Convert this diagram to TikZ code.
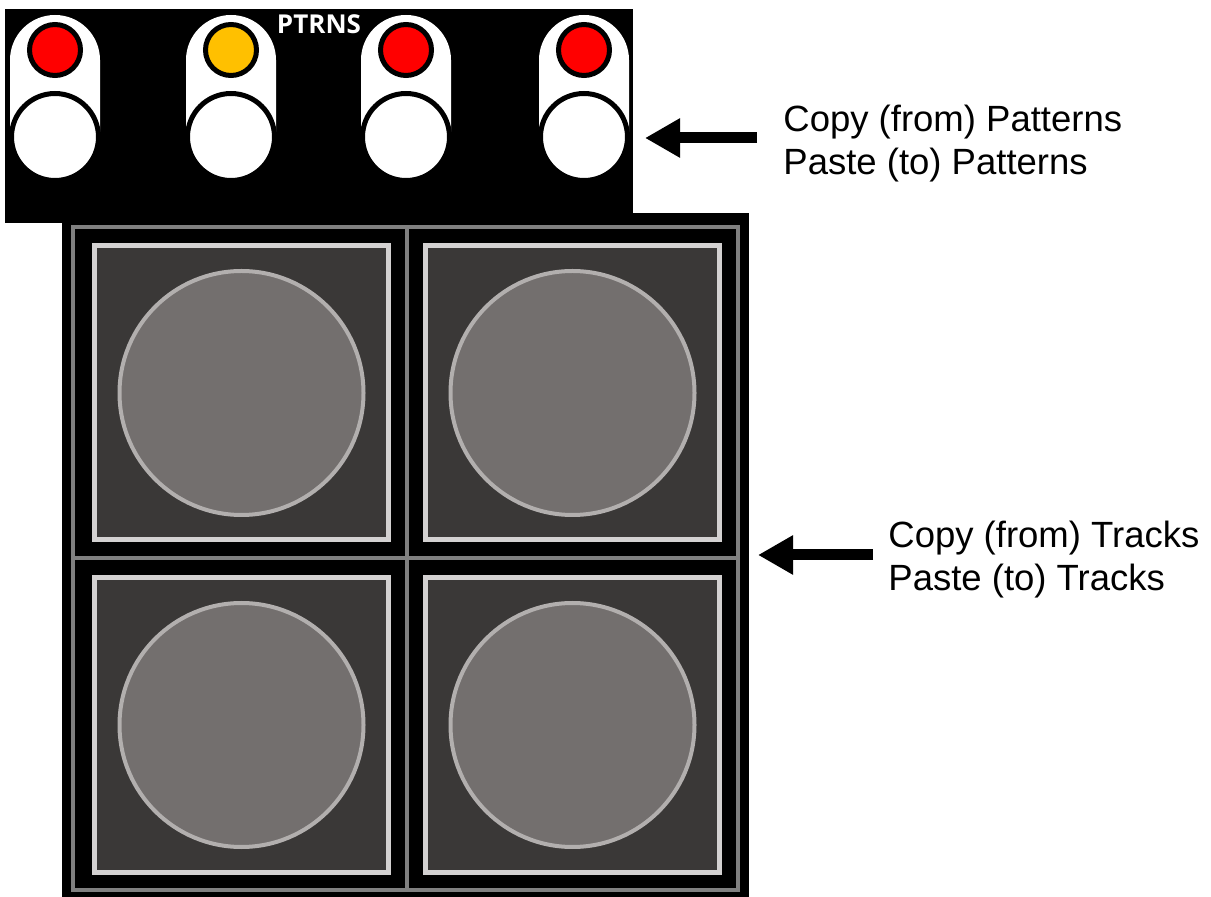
\documentclass[tikz,border=0pt]{standalone}
\usepackage{fontspec}
\setmainfont{Liberation Sans}
\newfontfamily\panelfont{Open Sans}
\usetikzlibrary{arrows.meta}
\usetikzlibrary{calc}

\definecolor{padfill}{HTML}{3A3837}
\definecolor{knobfill}{HTML}{736F6E}
\definecolor{knobrim}{HTML}{B2AFAE}
\definecolor{padrim}{HTML}{D3D1D1}
\definecolor{gridgray}{HTML}{808080}
\definecolor{ledred}{HTML}{FF0000}
\definecolor{ledamber}{HTML}{FFC000}

\begin{document}
\begin{tikzpicture}[x=0.5pt,y=-0.5pt,
    led/.style={circle,draw=black,line width=2.5pt,minimum size=25.5pt,inner sep=0pt},
    btn/.style={circle,draw=black,fill=white,line width=2.5pt,minimum size=43.5pt,inner sep=0pt},
    pad/.style={draw=padrim,fill=padfill,line width=2.5pt,minimum size=147pt,inner sep=0pt},
    knob/.style={circle,draw=knobrim,fill=knobfill,line width=2pt,minimum size=122pt,inner sep=0pt},
    lbl/.style={align=left,font=\fontsize{18.25}{21.5}\selectfont,inner ysep=0pt},
    bigarrow/.style={line width=5.5pt,-{Triangle[length=17.5pt,width=18.5pt]}}]
      \useasboundingbox (0,0) rectangle (1211,897);

      % panels
      \fill[black] (5,9) rectangle (633,223);
      \fill[black] (62,213) rectangle (749,897);
      \node[text=white,font=\panelfont\bfseries\fontsize{13}{15}\selectfont,inner sep=0pt] (ptrns) at (319,24) {PTRNS};

      % pattern switches
      \foreach \i/\x/\c in {1/55/ledred,2/231/ledamber,3/406/ledred,4/584/ledred}{
        \fill[white] (\x-45,137) -- (\x-45,60) arc[start angle=180,end angle=360,radius=45] -- (\x+45,137) -- cycle;
        \node[btn] (btn\i) at (\x,137) {};
        \node[led,fill=\c] (led\i) at (\x,50) {};
      }

      % track grid
      \draw[gridgray,line width=2pt] (73,227) rectangle (738,890);
      \draw[gridgray,line width=2pt] (407,227) -- (407,890);
      \draw[gridgray,line width=2pt] (73,558) -- (738,558);
      \foreach \i/\x/\y in {1/241.5/393,2/572.5/393,3/241.5/725,4/572.5/725}{
        \node[pad] (pad\i) at (\x,\y) {};
        \node[knob] (knob\i) at (\x,\y) {};
      }

      % labels
      \node[lbl,anchor=west,inner xsep=13pt] (patlbl) at (757,144) {Copy (from) Patterns\\Paste (to) Patterns};
      \node[lbl,anchor=west,inner xsep=7.5pt] (trklbl) at (873,560) {Copy (from) Tracks\\Paste (to) Tracks};
      \coordinate (pattip) at (645,138);
      \coordinate (trktip) at (758,555);
      \draw[bigarrow] (patlbl.west |- pattip) -- (pattip);
      \draw[bigarrow] (trklbl.west |- trktip) -- (trktip);
\end{tikzpicture}
\end{document}
